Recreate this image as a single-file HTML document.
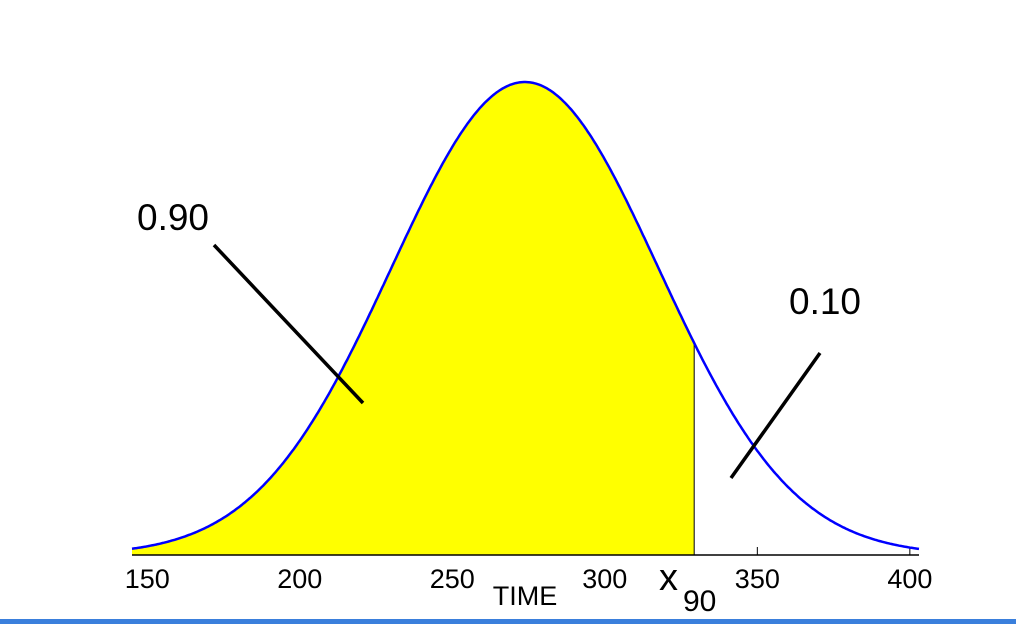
<!DOCTYPE html>
<html><head><meta charset="utf-8"><style>
body{margin:0;background:#fff;}
svg{display:block;font-family:"Liberation Sans",Arial,sans-serif;}
</style></head><body>
<svg id="chart" width="1016" height="624">
<rect x="0" y="619" width="1016" height="5" fill="#3a7fdc"/>
</svg>
<script>
const mu=[273.8];
const sigma=[43.8];
const x90=[329.3];
const tickValues=[150,200,250,300,350,400];
const tickLabels=["150","200","250","300","350","400"];
const xDomain=[145,403];
const NS='http://www.w3.org/2000/svg';
const svg=document.getElementById('chart');
const X0=132,X1=919,BASE=555,PEAK=82;
function sx(v){return X0+(v-xDomain[0])/(xDomain[1]-xDomain[0])*(X1-X0);}
function dens(v){const z=(v-mu[0])/sigma[0];return Math.exp(-z*z/2);}
function sy(d){return BASE-d*(BASE-PEAK);}
function mk(t,a){const e=document.createElementNS(NS,t);for(const k in a)e.setAttribute(k,a[k]);svg.appendChild(e);return e;}
tickValues.forEach((t,i)=>{
 const tk=mk('line',{x1:sx(t),x2:sx(t),y1:BASE,y2:BASE-8,stroke:'#000','stroke-width':1});
 
 
});
let f='M'+sx(xDomain[0])+','+BASE;
for(let v=xDomain[0];v<=x90[0];v+=0.5)f+=' L'+sx(v).toFixed(1)+','+sy(dens(v)).toFixed(1);
f+=' L'+sx(x90[0])+','+sy(dens(x90[0]))+' L'+sx(x90[0])+','+BASE+' Z';
const fill=mk('path',{d:f,fill:'#ffff00',stroke:'none'});


const vl=mk('line',{x1:sx(x90[0]),x2:sx(x90[0]),y1:sy(dens(x90[0])),y2:BASE,stroke:'#000','stroke-width':1});


let c='';
for(let v=xDomain[0];v<=xDomain[1];v+=0.5)c+=(c?' L':'M')+sx(v).toFixed(1)+','+sy(dens(v)).toFixed(1);
const cur=mk('path',{d:c,fill:'none',stroke:'#0000ff','stroke-width':2.5});


const ax=mk('line',{x1:X0,x2:X1,y1:BASE,y2:BASE,stroke:'#000','stroke-width':1.5});


tickValues.forEach((t,i)=>{
 const tl=mk('text',{x:sx(t),y:588,'text-anchor':'middle','font-size':27});
 tl.textContent=tickLabels[i];
 
 
});
const tt=mk('text',{x:525,y:605,'text-anchor':'middle','font-size':27});
tt.textContent='TIME';


const xl=mk('text',{x:659,y:590,'font-size':38});
xl.textContent='x';


const xs=mk('text',{x:683,y:611,'font-size':30});
xs.textContent='90';


const l1=mk('line',{x1:214,y1:245,x2:363,y2:403,stroke:'#000','stroke-width':3.5});


const a1=mk('text',{x:137,y:230,'font-size':37});
a1.textContent='0.90';


const l2=mk('line',{x1:820,y1:353,x2:731,y2:478,stroke:'#000','stroke-width':3.5});


const a2=mk('text',{x:789,y:314,'font-size':37});
a2.textContent='0.10';


</script>
</body></html>
